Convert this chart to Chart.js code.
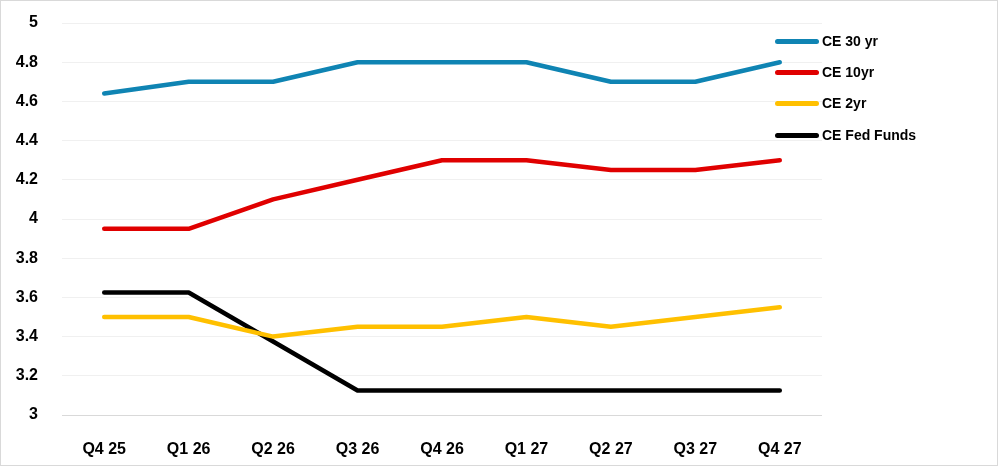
<!DOCTYPE html>
<html>
<head>
<meta charset="utf-8">
<script src="https://cdn.jsdelivr.net/npm/chart.js@4/dist/chart.umd.min.js"></script>
<style>
  body { margin: 0; background: #fff; }
  #wrap { position: relative; width: 998px; height: 466px; box-sizing: border-box; border: 1px solid #d9d9d9; }
  #wrap canvas { display: block; }
  .leg { position: absolute; left: 774px; height: 16px; display: flex; align-items: center;
         font: bold 14px "Liberation Sans Narrow", "Liberation Sans", sans-serif; color: #000; }
  .leg span.sw { display: inline-block; width: 44px; height: 5px; border-radius: 3px; margin-right: 3px; }
</style>
</head>
<body>
<div id="wrap">
  <canvas id="rateChart" width="996" height="464"></canvas>
  <div id="legend"></div>
</div>
<script>
// Quarters on the x axis
const quarters = ['Q4 25', 'Q1 26', 'Q2 26', 'Q3 26', 'Q4 26', 'Q1 27', 'Q2 27', 'Q3 27', 'Q4 27'];

// Forecast series (%)
const ce30yr = [4.64, 4.70, 4.70, 4.80, 4.80, 4.80, 4.70, 4.70, 4.80];
const ce10yr = [3.95, 3.95, 4.10, 4.20, 4.30, 4.30, 4.25, 4.25, 4.30];
const ce2yr = [3.50, 3.50, 3.40, 3.45, 3.45, 3.50, 3.45, 3.50, 3.55];
const ceFedFunds = [3.625, 3.625, 3.375, 3.125, 3.125, 3.125, 3.125, 3.125, 3.125];

// Y axis range
const yMin = 3;
const yMax = 5;
const yStep = 0.2;

const series = [
    { label: 'CE 30 yr', data: ce30yr, color: '#0f84b3', top: 32 },
    { label: 'CE 10yr', data: ce10yr, color: '#e00000', top: 63 },
    { label: 'CE 2yr', data: ce2yr, color: '#ffc000', top: 94 },
    { label: 'CE Fed Funds', data: ceFedFunds, color: '#000000', top: 126 }
];

// HTML legend sitting over the right side of the plot
const legendDiv = document.getElementById('legend');
series.forEach(s => {
    legendDiv.innerHTML += `<div class="leg" style="top:${s.top}px"><span class="sw" style="background:${s.color}"></span>${s.label}</div>`;
});

const tickFont = { family: '"Liberation Sans", sans-serif', size: 16, weight: 'bold' };

const ctx = document.getElementById('rateChart').getContext('2d');
const rateChart = new Chart(ctx, {
    type: 'line',
    data: {
        labels: quarters,
        datasets: series.map(s => ({
            label: s.label,
            data: s.data,
            borderColor: s.color,
            backgroundColor: s.color,
            borderWidth: 4.5,
            borderCapStyle: 'round',
            borderJoinStyle: 'round',
            pointRadius: 0,
            tension: 0,
            fill: false
        }))
    },
    options: {
        responsive: false,
        animation: false,
        layout: { padding: { top: 22, right: 175, left: 0, bottom: 0 } },
        plugins: {
            legend: { display: false },
            tooltip: { enabled: false }
        },
        scales: {
            x: {
                offset: true,
                grid: { display: false },
                border: { display: false },
                ticks: {
                    color: '#000',
                    padding: 17,
                    font: { family: '"Liberation Sans Narrow", "Liberation Sans", sans-serif', size: 16, weight: 'bold' },
                    maxRotation: 0
                },
                afterFit: function(scale) { scale.height = 50; }
            },
            y: {
                min: yMin,
                max: yMax,
                grid: {
                    drawTicks: false,
                    lineWidth: 1,
                    color: c => c.tick.value === yMin ? '#d9d9d9' : '#f0f0f0'
                },
                border: { display: false },
                ticks: {
                    stepSize: yStep,
                    color: '#000',
                    padding: 24,
                    font: tickFont,
                    callback: v => Math.round(v * 10) / 10
                },
                afterFit: function(scale) {
                    scale.width = 61;
                    // tick padding otherwise gets added above the top label
                    scale.paddingTop = 0;
                    scale.paddingBottom = 0;
                }
            }
        }
    }
});
</script>
</body>
</html>
